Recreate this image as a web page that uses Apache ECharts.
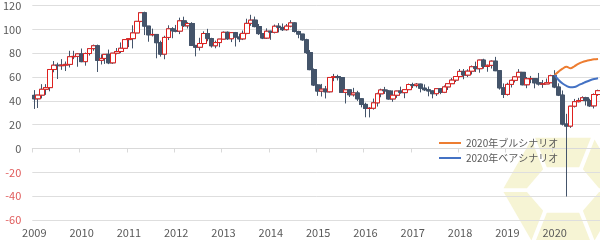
<!DOCTYPE html>
<html><head><meta charset="utf-8">
<script src="https://cdn.jsdelivr.net/npm/echarts@6/dist/echarts.min.js"></script>
<style>html,body{margin:0;padding:0;background:#fff}#c{width:600px;height:240px}</style>
</head><body><div id="c"></div>
<script>
// Tick labels
const years = ['2009','2010','2011','2012','2013','2014','2015','2016','2017','2018','2019','2020'];
const yTicks = { min: -60, max: 120, step: 20 };
// Monthly candles: [open, close, low, high]
const y2009 = [[44.6,41.7,33.2,49.0],[41.7,44.8,34.0,45.0],[44.8,49.7,42.0,54.0],[49.7,51.1,45.0,54.0],[51.1,66.3,48.0,66.5],[66.3,69.9,64.0,73.4],[69.9,69.5,58.3,72.0],[69.5,70.0,66.0,75.0],[70.0,70.6,65.0,73.0],[70.6,77.0,68.0,82.0],[77.0,77.3,75.0,82.0],[77.3,79.4,68.6,80.0]];
const y2010 = [[79.4,72.9,72.4,83.9],[72.9,79.7,69.5,80.5],[79.7,83.8,78.0,83.9],[83.8,86.2,82.0,87.2],[86.2,74.0,64.2,87.2],[74.0,75.6,70.5,79.0],[75.6,79.0,71.0,79.0],[79.0,71.9,70.8,83.0],[71.9,80.0,71.0,80.0],[80.0,81.4,79.0,84.3],[81.4,84.1,80.0,89.0],[84.1,91.4,84.0,91.6]];
const y2011 = [[91.4,92.2,85.1,92.6],[92.2,97.0,84.0,103.4],[97.0,106.7,97.0,107.0],[106.7,113.9,106.0,113.9],[113.9,102.7,95.2,114.8],[102.7,95.4,89.6,102.0],[95.4,95.7,94.0,100.6],[95.7,88.8,75.7,95.7],[88.8,79.2,77.1,90.5],[79.2,93.2,74.9,94.6],[93.2,100.4,91.0,103.4],[100.4,98.8,92.5,101.8]];
const y2012 = [[98.8,98.5,97.5,103.7],[98.5,107.1,96.0,109.8],[107.1,103.0,102.0,110.6],[103.0,104.9,100.7,106.0],[104.9,86.5,86.0,106.0],[86.5,85.0,77.3,86.0],[85.0,88.1,82.2,92.9],[88.1,96.5,87.4,98.3],[96.5,92.2,90.0,100.4],[92.2,86.2,84.7,92.9],[86.2,88.9,84.1,90.5],[88.9,91.8,85.0,91.9]];
const y2013 = [[91.8,97.5,91.6,98.2],[97.5,92.1,91.1,98.2],[92.1,97.2,89.3,97.4],[97.2,93.5,85.6,97.8],[93.5,92.0,89.3,96.3],[92.0,96.6,91.0,99.0],[96.6,105.0,95.9,108.9],[105.0,107.7,103.0,112.2],[107.7,102.3,101.7,110.7],[102.3,96.4,95.3,104.5],[96.4,92.7,91.8,96.4],[92.7,98.4,92.0,100.8]];
const y2014 = [[98.4,97.5,91.2,98.9],[97.5,102.6,96.6,104.0],[102.6,101.6,97.4,105.2],[101.6,99.7,98.6,104.9],[99.7,102.7,98.9,104.5],[102.7,105.4,101.7,107.7],[105.4,98.2,97.3,106.0],[98.2,96.0,92.5,98.8],[96.0,91.2,90.4,95.7],[91.2,80.5,79.4,92.1],[80.5,66.2,65.7,82.6],[66.2,53.3,52.4,67.2]];
const y2015 = [[53.3,48.2,44.2,53.8],[48.2,49.8,43.6,54.2],[49.8,47.6,42.0,52.5],[47.6,59.6,47.0,59.9],[59.6,60.3,56.5,62.6],[60.3,59.5,57.1,61.9],[59.5,47.1,47.0,59.8],[47.1,49.2,37.8,49.3],[49.2,45.1,43.2,49.5],[45.1,46.6,43.6,50.9],[46.6,41.7,39.9,48.4],[41.7,37.0,34.5,42.0]];
const y2016 = [[37.0,33.6,26.2,38.4],[33.6,33.8,26.1,34.7],[33.8,38.3,32.6,41.9],[38.3,45.9,35.2,46.8],[45.9,49.1,43.0,50.2],[49.1,48.3,45.8,51.7],[48.3,41.6,41.0,49.0],[41.6,44.7,39.2,48.8],[44.7,48.2,42.5,48.4],[48.2,46.9,46.0,51.9],[46.9,49.4,42.2,49.9],[49.4,53.7,49.0,54.5]];
const y2017 = [[53.7,52.8,50.7,55.2],[52.8,54.0,51.2,54.9],[54.0,50.6,47.1,54.4],[50.6,49.3,48.2,53.8],[49.3,48.3,43.8,52.0],[48.3,46.0,42.1,48.8],[46.0,50.2,44.1,50.4],[50.2,47.2,45.6,50.2],[47.2,51.7,46.5,52.9],[51.7,54.4,49.1,54.8],[54.4,57.4,54.2,59.1],[57.4,60.4,55.8,60.5]];
const y2018 = [[60.4,64.7,59.8,66.7],[64.7,61.6,58.1,66.7],[61.6,64.9,59.9,66.5],[64.9,68.6,62.1,69.6],[68.6,67.0,64.2,72.9],[67.0,74.2,63.6,74.5],[74.2,68.8,67.0,75.3],[68.8,69.8,64.4,70.4],[69.8,73.3,67.1,73.9],[73.3,65.3,64.9,76.9],[65.3,50.9,49.4,65.5],[50.9,45.4,42.4,54.6]];
const y2019 = [[45.4,53.8,44.4,55.2],[53.8,57.2,51.2,57.8],[57.2,60.1,55.4,60.7],[60.1,63.9,60.0,66.6],[63.9,53.5,53.0,63.9],[53.5,58.5,50.6,60.0],[58.5,58.6,54.8,60.9],[58.6,55.1,50.5,58.8],[55.1,54.1,52.8,63.4],[54.1,54.2,50.9,57.5],[54.2,55.2,54.1,58.7],[55.2,61.1,55.0,61.9]];
const y2020 = [[61.1,51.6,50.6,65.7],[51.6,44.8,44.0,54.7],[44.8,20.5,19.3,48.7],[20.5,18.8,-40.3,29.1],[18.8,35.5,17.3,35.8],[35.5,39.3,34.4,41.6],[39.3,40.3,38.7,42.5],[40.3,42.6,40.0,43.8],[42.6,40.2,36.1,43.4],[40.2,35.8,34.9,41.8],[35.8,45.3,33.6,46.2],[45.3,48.5,44.2,49.4]];
// 2020 scenarios (Jan–Dec 2020)
const bullName = '2020年ブルシナリオ';
const bearName = '2020年ベアシナリオ';
const bull2020 = [61.7,64.5,67.0,68.6,67.3,69.0,71.0,72.5,73.5,74.2,74.8,75.2];
const bear2020 = [61.7,57.5,54.5,52.5,51.4,51.6,53.0,54.5,56.0,57.3,58.3,59.0];

const candles = [].concat(y2009,y2010,y2011,y2012,y2013,y2014,y2015,y2016,y2017,y2018,y2019,y2020);
const categories = [];
years.forEach(y => { for (let m = 1; m <= 12; m++) categories.push(y + '/' + m); });
const pad = categories.length - bull2020.length;
const bullData = Array(pad).fill(null).concat(bull2020);
const bearData = Array(pad).fill(null).concat(bear2020);
const bodies = candles.map(c => [c[0], c[1], Math.min(c[0], c[1]), Math.max(c[0], c[1])]);

const dark = '#44546a', red = '#e0201e';
const FONT = '"Noto Sans CJK JP", "Noto Sans", sans-serif';

// watermark hexagon ring (decoration)
function hexRing(cx, cy, ohw, ohh, ihw, ihh) {
  const outer = [[cx+ohw,cy],[cx+ohw/2,cy+ohh],[cx-ohw/2,cy+ohh],[cx-ohw,cy],[cx-ohw/2,cy-ohh],[cx+ohw/2,cy-ohh]];
  const inner = [[cx+ihw,cy],[cx+ihw/2,cy+ihh],[cx-ihw/2,cy+ihh],[cx-ihw,cy],[cx-ihw/2,cy-ihh],[cx+ihw/2,cy-ihh]];
  const els = [];
  for (let k = 0; k < 6; k++) {
    const pts = [outer[k], outer[(k+1)%6], inner[(k+1)%6], inner[k]];
    const mx = pts.reduce((s,p)=>s+p[0],0)/4, my = pts.reduce((s,p)=>s+p[1],0)/4;
    const sh = pts.map(p => [mx + (p[0]-mx)*0.9, my + (p[1]-my)*0.9]);
    els.push({ type: 'polygon', z: -10, silent: true, shape: { points: sh }, style: { fill: '#f6f4d4' } });
  }
  return els;
}

const chart = echarts.init(document.getElementById('c'), null, { renderer: 'canvas' });
chart.setOption({
  animation: false,
  backgroundColor: '#fff',
  graphic: hexRing(563, 190, 62, 54, 36, 21),
  grid: { left: 30, right: 0, top: 5, bottom: 20, containLabel: false },
  legend: {
    orient: 'vertical', left: 434, top: 133, itemGap: 5,
    itemWidth: 22, itemHeight: 2, icon: 'rect',
    data: [bullName, bearName],
    textStyle: { color: '#595959', fontSize: 10, fontFamily: FONT }
  },
  xAxis: {
    type: 'category', data: categories, boundaryGap: true,
    axisLine: { lineStyle: { color: '#d9d9d9' } },
    axisTick: { show: true, interval: (i) => i % 12 === 0, length: 4, lineStyle: { color: '#d9d9d9' } },
    axisLabel: {
      interval: (i) => i % 12 === 0, margin: 7,
      formatter: (v) => v.split('/')[0],
      color: '#595959', fontSize: 11, fontFamily: FONT
    },
    splitLine: { show: false }
  },
  yAxis: {
    type: 'value', min: yTicks.min, max: yTicks.max, interval: yTicks.step,
    axisLine: { show: false }, axisTick: { show: false },
    axisLabel: {
      margin: 11, fontSize: 11, fontFamily: FONT,
      color: (v) => (Number(v) < 0 ? '#e05a5a' : '#595959')
    },
    splitLine: { lineStyle: { color: '#dedede', width: 1 } }
  },
  series: [
    {
      type: 'candlestick', name: 'wick', data: candles, barWidth: 5, z: 2,
      itemStyle: { color: dark, color0: dark, borderColor: dark, borderColor0: dark, borderWidth: 1 }
    },
    {
      type: 'candlestick', name: 'body', data: bodies, barWidth: 5, z: 3,
      itemStyle: { color: '#ffffff', color0: dark, borderColor: red, borderColor0: dark, borderWidth: 1 }
    },
    {
      type: 'line', name: bullName, data: bullData, smooth: 0.4, showSymbol: false, symbol: 'none', z: 4,
      lineStyle: { color: '#ed7d31', width: 2 }, itemStyle: { color: '#ed7d31' }
    },
    {
      type: 'line', name: bearName, data: bearData, smooth: 0.4, showSymbol: false, symbol: 'none', z: 4,
      lineStyle: { color: '#4472c4', width: 2 }, itemStyle: { color: '#4472c4' }
    }
  ]
});
</script></body></html>
